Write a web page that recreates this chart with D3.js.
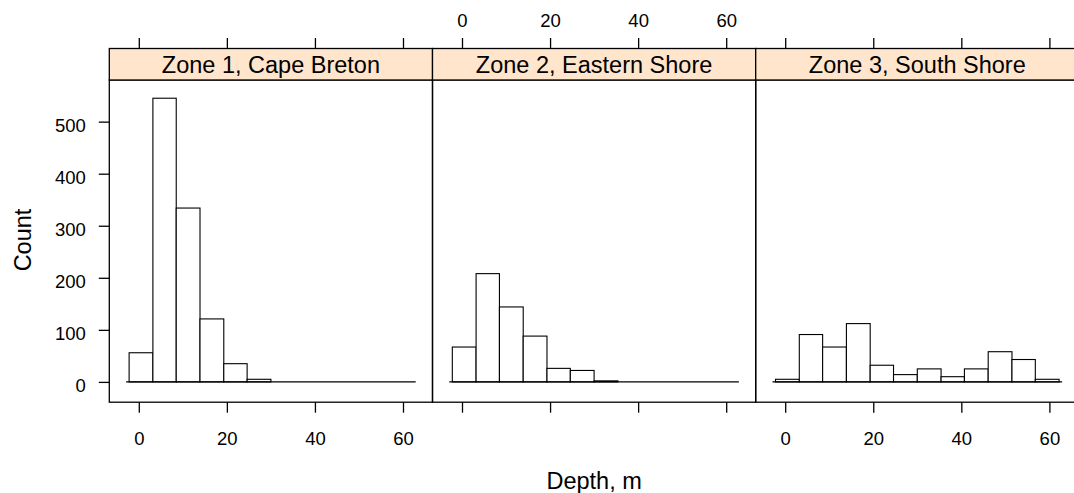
<html>
    <head>
        <script src="https://d3js.org/d3.v7.min.js"></script>
        <style>
            body { margin: 0; background: #fff; }
            text { font-family: "Liberation Sans", Arial, sans-serif; fill: #000; }
        </style>
    </head>
    <body>
        <div id="svg-area"></div>
        <script>
            // panel names (lattice strips)
            const zones = ['Zone 1, Cape Breton', 'Zone 2, Eastern Shore', 'Zone 3, South Shore'];

            // histogram bin edges, depth in m
            const breaks = [-2.2, 3.2, 8.5, 13.9, 19.3, 24.6, 30.0, 35.4, 40.7, 46.1, 51.5, 56.8, 62.2];

            // counts per bin
            const zone1Counts = [56, 545, 334, 121, 35, 5, 0, 0, 0, 0, 0, 0];
            const zone2Counts = [67, 208, 144, 88, 26, 22, 2, 0, 0, 0, 0, 0];
            const zone3Counts = [5, 91, 67, 112, 32, 14, 25, 10, 25, 58, 43, 5];

            const xTicks = [0, 20, 40, 60];
            const yTicks = [0, 100, 200, 300, 400, 500];
            const xDomain = [-6.7, 66.7];
            const yDomain = [-39, 580];

            const allCounts = [zone1Counts, zone2Counts, zone3Counts];

            const svg = d3.select('#svg-area')
                .append('svg')
                .attr('width', 1074)
                .attr('height', 493);

            const panelLeft = 109.3;
            const panelWidth = 323.2;
            const stripTop = 48.5;
            const panelTop = 80;
            const panelBottom = 402.2;
            const tickLen = 10.5;

            const yScale = d3.scaleLinear().domain(yDomain).range([panelBottom, panelTop]);

            zones.forEach((zone, i) => {
                const x0 = panelLeft + i * panelWidth;
                const xScale = d3.scaleLinear().domain(xDomain).range([x0, x0 + panelWidth]);
                const counts = allCounts[i];
                const g = svg.append('g');

                // bars
                counts.forEach((c, j) => {
                    g.append('rect')
                        .attr('x', xScale(breaks[j]))
                        .attr('y', yScale(c))
                        .attr('width', xScale(breaks[j + 1]) - xScale(breaks[j]))
                        .attr('height', yScale(0) - yScale(c))
                        .attr('fill', '#fff')
                        .attr('stroke', '#000')
                        .attr('stroke-width', 1.1);
                });

                // baseline under the bars
                g.append('line')
                    .attr('x1', xScale(breaks[0]) - 3)
                    .attr('x2', xScale(breaks[breaks.length - 1]) + 3)
                    .attr('y1', yScale(0))
                    .attr('y2', yScale(0))
                    .attr('stroke', '#000')
                    .attr('stroke-width', 1.3);

                // panel box
                g.append('rect')
                    .attr('x', x0)
                    .attr('y', panelTop)
                    .attr('width', panelWidth)
                    .attr('height', panelBottom - panelTop)
                    .attr('fill', 'none')
                    .attr('stroke', '#000')
                    .attr('stroke-width', 1.3);

                // strip
                g.append('rect')
                    .attr('x', x0)
                    .attr('y', stripTop)
                    .attr('width', panelWidth)
                    .attr('height', panelTop - stripTop)
                    .attr('fill', '#ffe5cc')
                    .attr('stroke', '#000')
                    .attr('stroke-width', 1.3);

                g.append('text')
                    .attr('x', x0 + panelWidth / 2)
                    .attr('y', panelTop - 7.5)
                    .attr('text-anchor', 'middle')
                    .style('font-size', '23.5px')
                    .text(zone);

                // top and bottom ticks; labels alternate like lattice
                const bottomAxis = d3.axisBottom(xScale).tickValues(xTicks).tickSize(tickLen).tickPadding(19)
                    .tickFormat(i === 1 ? '' : d3.format('d'));
                const ba = svg.append('g')
                    .attr('transform', `translate(0,${panelBottom})`)
                    .call(bottomAxis);

                const topAxis = d3.axisTop(xScale).tickValues(xTicks).tickSize(tickLen).tickPadding(11)
                    .tickFormat(i === 1 ? d3.format('d') : '');
                const ta = svg.append('g')
                    .attr('transform', `translate(0,${stripTop})`)
                    .call(topAxis);

                [ba, ta].forEach(a => {
                    a.select('.domain').remove();
                    a.selectAll('line').attr('stroke', '#000').attr('stroke-width', 1.3);
                    a.selectAll('text').style('font-size', '18.5px').style('font-family', '"Liberation Sans", Arial, sans-serif').attr('fill', '#000');
                });
            });

            // left axis
            const leftAxis = d3.axisLeft(yScale).tickValues(yTicks).tickSize(tickLen).tickPadding(13);
            const la = svg.append('g')
                .attr('transform', `translate(${panelLeft},0)`)
                .call(leftAxis);
            la.select('.domain').remove();
            la.selectAll('line').attr('stroke', '#000').attr('stroke-width', 1.3);
            la.selectAll('text')
                .attr('dy', '0.52em')
                .style('font-size', '18.5px').style('font-family', '"Liberation Sans", Arial, sans-serif').attr('fill', '#000');

            // axis titles
            svg.append('text')
                .attr('transform', 'translate(31,240) rotate(-90)')
                .attr('text-anchor', 'middle')
                .style('font-size', '23.5px')
                .text('Count');

            svg.append('text')
                .attr('x', panelLeft + panelWidth * 1.5)
                .attr('y', 488.5)
                .attr('text-anchor', 'middle')
                .style('font-size', '23.5px')
                .text('Depth, m');
        </script>
    </body>
</html>
